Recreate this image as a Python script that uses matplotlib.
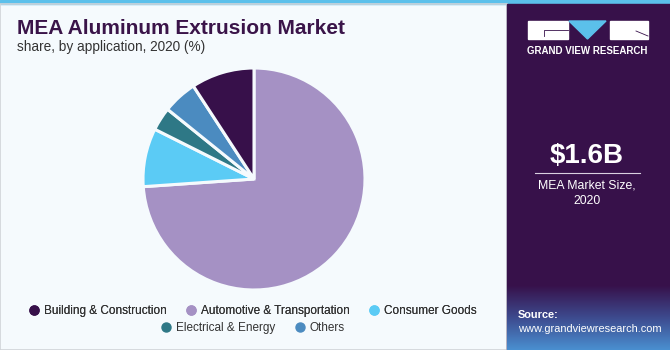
import matplotlib
matplotlib.use("Agg")
import matplotlib.pyplot as plt
import numpy as np
from matplotlib.lines import Line2D
from matplotlib.patches import Rectangle, Polygon
from matplotlib.colors import LinearSegmentedColormap

plt.rcParams['font.family'] = ['Liberation Sans', 'DejaVu Sans']

categories = ["Building & Construction", "Automotive & Transportation",
              "Consumer Goods", "Electrical & Energy", "Others"]
shares = [9.2, 73.9, 8.5, 3.4, 5.0]
colors = ["#37104a", "#a591c4", "#5bcbf5", "#2e7886", "#4b8bc0"]
# drawing order (clockwise from top)
pie_order = [1, 2, 3, 4, 0]

W, H = 670, 350
fig = plt.figure(figsize=(W / 100, H / 100), dpi=100)
fig.patch.set_facecolor("#f5fafd")

def fx(px):
    return px / W

def fy(py):
    return 1 - py / H

# background decorations
bg = fig.add_axes([0, 0, 1, 1], zorder=-5)
bg.set_xlim(0, W)
bg.set_ylim(H, 0)
bg.axis("off")
bg.add_patch(Rectangle((0, 0), W, 4, color="#5bc0eb"))
bg.add_patch(Rectangle((0, 4), 507, 346, facecolor="none", edgecolor="#d0d4d8", lw=1.2))
bg.add_patch(Rectangle((507, 4), W - 507, H - 4, color="#37114a"))
# gradient source box
grad = np.linspace(0, 1, 100).reshape(-1, 1)
cmap = LinearSegmentedColormap.from_list("g", ["#37114a", "#3d4a8e", "#4a8fd0"])
bg.imshow(grad, extent=(507, W, H, 285), cmap=cmap, aspect="auto", zorder=1)
# logo
bg.add_patch(Rectangle((528, 21), 40, 18, color="white", zorder=2))
bg.add_patch(Polygon([(569, 21), (606, 21), (587.5, 39)], color="#5bc0eb", zorder=2))
bg.add_patch(Rectangle((610, 21), 38, 18, color="white", zorder=2))
bg.plot([544, 544, 568], [36, 30, 30], color="#37114a", lw=0.6, zorder=3)
bg.plot([636, 648], [31, 36], color="#37114a", lw=0.6, zorder=3)
bg.text(587.5, 51, "GRAND VIEW RESEARCH", color="white", fontsize=7,
        fontweight="bold", ha="center", va="center", zorder=3)
bg.text(587, 156, "$1.6B", color="white", fontsize=20, fontweight="bold",
        ha="center", va="center", zorder=3)
bg.plot([535, 640], [173, 173], color="#d9d0e0", lw=0.8, zorder=3)
bg.text(587, 186, "MEA Market Size,", color="white", fontsize=8.8,
        ha="center", va="center", zorder=3)
bg.text(587, 201, "2020", color="white", fontsize=8.8,
        ha="center", va="center", zorder=3)
bg.text(518, 315, "Source:", color="white", fontsize=7.9, fontweight="bold",
        ha="left", va="center", zorder=3)
bg.text(518, 329, "www.grandviewresearch.com", color="white", fontsize=7.9,
        ha="left", va="center", zorder=3)

# titles
fig.text(fx(17), fy(28), "MEA Aluminum Extrusion Market", fontsize=15,
         fontweight="bold", color="#3a1449", ha="left", va="center")
fig.text(fx(17), fy(47), "share, by application, 2020 (%)", fontsize=9.8,
         color="#333333", ha="left", va="center")

# pie
cx, cy, r = 254, 179, 111
half = 120
ax = fig.add_axes([fx(cx - half), fy(cy + half), 2 * half / W, 2 * half / H])
vals = [shares[i] for i in pie_order]
cols = [colors[i] for i in pie_order]
ax.pie(vals, colors=cols, startangle=90, counterclock=False,
       wedgeprops=dict(edgecolor="#f5fafd", linewidth=2.2))
ax.set_xlim(-half / r, half / r)
ax.set_ylim(-half / r, half / r)
ax.set_aspect("equal")
ax.axis("off")

# legends
def handles(idx):
    return [Line2D([], [], marker="o", linestyle="", markersize=6.5,
                   markerfacecolor=colors[i], markeredgecolor=colors[i]) for i in idx]

legkw = dict(loc="center", frameon=False, fontsize=8.5, handletextpad=0.4,
             columnspacing=1.7, handlelength=0.8, labelcolor="#333333")
row1 = [0, 1, 2]
row2 = [3, 4]
l1 = fig.legend(handles(row1), [categories[i] for i in row1],
                bbox_to_anchor=(fx(253), fy(311)), ncol=3, **legkw)
l2 = fig.legend(handles(row2), [categories[i] for i in row2],
                bbox_to_anchor=(fx(253), fy(328)), ncol=2, **legkw)
fig.add_artist(l1)

fig.savefig("out.png", dpi=100, facecolor=fig.get_facecolor())
